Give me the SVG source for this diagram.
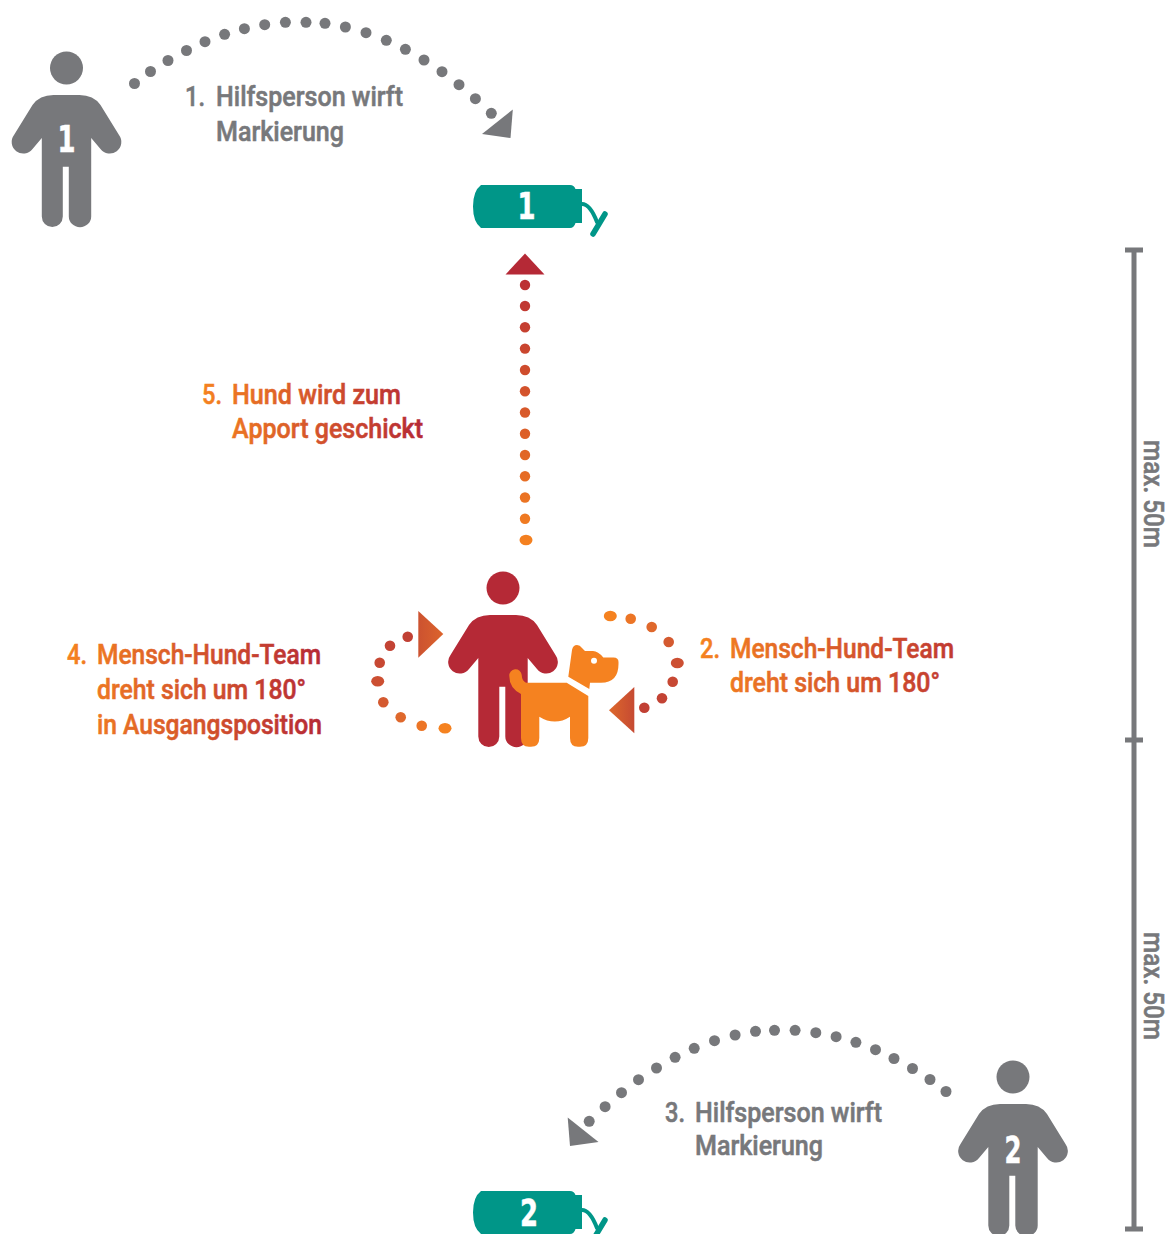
<svg xmlns="http://www.w3.org/2000/svg" xmlns:xlink="http://www.w3.org/1999/xlink" width="1173" height="1234" viewBox="0 0 1173 1234">
<style>
text{font-family:"Roboto","Noto Sans","Liberation Sans",sans-serif;font-weight:500;font-size:28px;stroke-width:.55px}
.grey{fill:#77787b}
.grey text{stroke:#77787b}
.num{font-family:"DejaVu Sans",sans-serif;font-weight:700;font-size:37px;fill:#fff;stroke:#fff;text-anchor:middle}
.teal{fill:#009688}
.rope{fill:none;stroke:#009688;stroke-width:4;stroke-linecap:round}
.fork{stroke-width:5.500px}
.scale{stroke:#77787b;fill:none;stroke-width:5px}
</style>
<defs>
<path id="person" d="M490,615H516Q530,615 537,625L555.5,655A11,11 0 0 1 537,669L527.7,658V736.5A11,10.500 0 0 1 505.300,736.500V686.700H499.300V736.500A10.500,10.500 0 0 1 478.300,736.500V658L469,669A11,11 0 0 1 450.500,655L469,625Q476,615 490,615Z"/>
<path id="bottle" d="M481,185H570Q574,185 575.500,189H582V223H575.500Q574,228 570,228H481Q473,222 473,206.500Q473,191 481,185Z"/>
<linearGradient id="gText5" gradientUnits="userSpaceOnUse" x1="202" y1="0" x2="424" y2="0"><stop offset="0" stop-color="#f58220"/><stop offset="1" stop-color="#b52936"/></linearGradient>
<linearGradient id="gText2" gradientUnits="userSpaceOnUse" x1="700" y1="0" x2="1010" y2="0"><stop offset="0" stop-color="#f58220"/><stop offset="1" stop-color="#b52936"/></linearGradient>
<linearGradient id="gText4" gradientUnits="userSpaceOnUse" x1="67" y1="0" x2="322" y2="0"><stop offset="0" stop-color="#f58220"/><stop offset="1" stop-color="#b52936"/></linearGradient>
<linearGradient id="gV" gradientUnits="userSpaceOnUse" x1="0" y1="254" x2="0" y2="546"><stop offset="0" stop-color="#b52936"/><stop offset="1" stop-color="#f58220"/></linearGradient>
<linearGradient id="gArrow" x1="0" y1="0" x2="1" y2="0"><stop offset="0" stop-color="#dd682c"/><stop offset="1" stop-color="#c64a32"/></linearGradient>
<linearGradient id="gArrowL" x1="0" y1="0" x2="1" y2="0"><stop offset="0" stop-color="#cc5230"/><stop offset="1" stop-color="#dc642c"/></linearGradient>
</defs>

<g id="connectors">
<g id="throw-1" class="grey">
<circle cx="134.500" cy="83.500" r="5.500"/><circle cx="150.500" cy="71.500" r="5.500"/><circle cx="168" cy="60.500" r="5.500"/><circle cx="186.500" cy="50.500" r="5.500"/><circle cx="205" cy="41.700" r="5.500"/><circle cx="224.600" cy="34.300" r="5.500"/><circle cx="244.400" cy="28.700" r="5.500"/><circle cx="264.700" cy="24.700" r="5.500"/><circle cx="285.400" cy="22.300" r="5.500"/><circle cx="306" cy="22.300" r="5.500"/><circle cx="325" cy="23.300" r="5.500"/><circle cx="345.400" cy="27" r="5.500"/><circle cx="366" cy="32.700" r="5.500"/><circle cx="386.300" cy="40.300" r="5.500"/><circle cx="405.400" cy="49.300" r="5.500"/><circle cx="424" cy="60" r="5.500"/><circle cx="442" cy="71.700" r="5.500"/><circle cx="459" cy="84.700" r="5.500"/><circle cx="475.400" cy="98.700" r="5.500"/><circle cx="491.300" cy="113.300" r="5.500"/>
<polygon points="512.800,109.500 482,134 510.500,138"/>
</g>
<g id="throw-2" class="grey" transform="translate(1080.500,1008) scale(-1,1)">
<circle cx="134.500" cy="83.500" r="5.500"/><circle cx="150.500" cy="71.500" r="5.500"/><circle cx="168" cy="60.500" r="5.500"/><circle cx="186.500" cy="50.500" r="5.500"/><circle cx="205" cy="41.700" r="5.500"/><circle cx="224.600" cy="34.300" r="5.500"/><circle cx="244.400" cy="28.700" r="5.500"/><circle cx="264.700" cy="24.700" r="5.500"/><circle cx="285.400" cy="22.300" r="5.500"/><circle cx="306" cy="22.300" r="5.500"/><circle cx="325" cy="23.300" r="5.500"/><circle cx="345.400" cy="27" r="5.500"/><circle cx="366" cy="32.700" r="5.500"/><circle cx="386.300" cy="40.300" r="5.500"/><circle cx="405.400" cy="49.300" r="5.500"/><circle cx="424" cy="60" r="5.500"/><circle cx="442" cy="71.700" r="5.500"/><circle cx="459" cy="84.700" r="5.500"/><circle cx="475.400" cy="98.700" r="5.500"/><circle cx="491.300" cy="113.300" r="5.500"/>
<polygon points="512.800,109.500 482,134 510.500,138"/>
</g>
<g id="send" fill="url(#gV)">
<polygon points="525,253.500 544.500,274.500 505.500,274.500" fill="#b52936"/>
<circle cx="525" cy="285" r="5.200"/><circle cx="525" cy="306" r="5.200"/><circle cx="525" cy="327.300" r="5.200"/><circle cx="525" cy="348.600" r="5.200"/><circle cx="525" cy="370" r="5.200"/><circle cx="525" cy="391.300" r="5.200"/><circle cx="525" cy="412.500" r="5.200"/><circle cx="525" cy="433.800" r="5.200"/><circle cx="525" cy="455" r="5.200"/><circle cx="525" cy="476.300" r="5.200"/><circle cx="525" cy="497.500" r="5.200"/><circle cx="525" cy="518.800" r="5.200"/><ellipse cx="526" cy="540" rx="6.500" ry="5.200"/>
</g>
<g id="turn-back">
<ellipse cx="445" cy="728.300" rx="6.500" ry="5.300" fill="#f58220"/>
<circle cx="421.700" cy="725.700" r="5.300" fill="#ec7526"/>
<circle cx="400.700" cy="717.300" r="5.300" fill="#df682c"/>
<circle cx="383.300" cy="702.300" r="5.300" fill="#d45a30"/>
<ellipse cx="377.700" cy="681.300" rx="6.500" ry="5.300" fill="#cc4f32"/>
<circle cx="379.700" cy="662.700" r="5.300" fill="#c74833"/>
<circle cx="390" cy="645.700" r="5.300" fill="#c34334"/>
<circle cx="407.700" cy="636.700" r="5.300" fill="#c14034"/>
<polygon points="418.300,611 443.300,634 418.300,657.700" fill="url(#gArrowL)"/>
</g>
<g id="turn-out">
<ellipse cx="610.300" cy="616" rx="6.500" ry="5.300" fill="#f58220"/>
<circle cx="630.700" cy="618.700" r="5.300" fill="#ec7526"/>
<circle cx="651.700" cy="627" r="5.300" fill="#df682c"/>
<circle cx="668.700" cy="642" r="5.300" fill="#d45a30"/>
<ellipse cx="677.300" cy="663" rx="6.500" ry="5.300" fill="#cc4f32"/>
<circle cx="672.700" cy="681.700" r="5.300" fill="#c74833"/>
<circle cx="662" cy="698.300" r="5.300" fill="#c34334"/>
<circle cx="644.300" cy="707.700" r="5.300" fill="#c14034"/>
<polygon points="634.300,687 609,710.300 634.300,733.300" fill="url(#gArrow)"/>
</g>
</g>

<g id="helper-1"><use xlink:href="#person" href="#person" transform="translate(-436.500,-520)" class="grey"/><circle cx="66.500" cy="68" r="16.500" class="grey"/><text class="num" x="66.500" y="152" textLength="18" lengthAdjust="spacingAndGlyphs">1</text></g>
<g id="helper-2"><use xlink:href="#person" href="#person" transform="translate(510,489)" class="grey"/><circle cx="1013" cy="1077" r="16.500" class="grey"/><text class="num" x="1013" y="1163" textLength="17" lengthAdjust="spacingAndGlyphs">2</text></g>

<g id="team">
<circle cx="503" cy="588" r="16.500" fill="#b52936"/>
<use xlink:href="#person" href="#person" fill="#b52936"/>
<path fill="#f58220" d="M509.300,676A6.200,6.200 0 0 1 521.700,675Q522,681 526,682.700H566.700L588.300,696V738Q588.300,746.700 580,746.700H578Q570,746.700 570,738V716.700Q555,726.500 539.300,716.700V738Q539.300,746.700 531,746.700H529Q521,746.700 521,738V694Q509.300,688 509.300,676Z"/>
<path fill="#f58220" d="M568.300,676.700L572,650Q573,645 577,645Q580,645 582,648L585,651H593Q598,651 603.300,657.500H613.500Q618.500,657.500 618.500,662V664Q618.500,682.700 601,682.700H590L589.300,689Z"/>
<circle cx="594" cy="660.700" r="3" fill="#fff"/>
</g>

<g id="marker-1"><use xlink:href="#bottle" href="#bottle" class="teal"/><path class="rope" d="M582,204Q590,204 597,222"/><path class="rope fork" d="M605,214L593,234"/><text class="num" x="526.500" y="219" textLength="18" lengthAdjust="spacingAndGlyphs">1</text></g>
<g id="marker-2"><use xlink:href="#bottle" href="#bottle" class="teal" transform="translate(0,1006)"/><path class="rope" d="M582,1210Q590,1210 597,1228"/><path class="rope fork" d="M605,1220L593,1240"/><text class="num" x="529" y="1226" textLength="18" lengthAdjust="spacingAndGlyphs">2</text></g>

<g id="scale">
<path class="scale" d="M1134,248V1230"/>
<path class="scale" d="M1125,250H1143M1125,740H1143M1125,1229H1143"/>
<g class="grey">
<text transform="translate(1144,440) rotate(90)" textLength="108" lengthAdjust="spacingAndGlyphs">max. 50m</text>
<text transform="translate(1144,932) rotate(90)" textLength="108" lengthAdjust="spacingAndGlyphs">max. 50m</text>
</g>
</g>

<g id="label-1" class="grey">
<text x="185" y="106" textLength="20" lengthAdjust="spacingAndGlyphs">1.</text>
<text x="216" y="106" textLength="187" lengthAdjust="spacingAndGlyphs">Hilfsperson wirft</text>
<text x="216" y="141" textLength="128" lengthAdjust="spacingAndGlyphs">Markierung</text>
</g>
<g id="label-3" class="grey">
<text x="665" y="1122" textLength="20" lengthAdjust="spacingAndGlyphs">3.</text>
<text x="695" y="1122" textLength="187" lengthAdjust="spacingAndGlyphs">Hilfsperson wirft</text>
<text x="695" y="1155" textLength="128" lengthAdjust="spacingAndGlyphs">Markierung</text>
</g>
<g id="label-5" fill="url(#gText5)" stroke="url(#gText5)">
<text x="202" y="404" textLength="20" lengthAdjust="spacingAndGlyphs">5.</text>
<text x="232" y="404" textLength="169" lengthAdjust="spacingAndGlyphs">Hund wird zum</text>
<text x="232" y="438" textLength="191" lengthAdjust="spacingAndGlyphs">Apport geschickt</text>
</g>
<g id="label-2" fill="url(#gText2)" stroke="url(#gText2)">
<text x="700" y="658" textLength="20" lengthAdjust="spacingAndGlyphs">2.</text>
<text x="730" y="658" textLength="224" lengthAdjust="spacingAndGlyphs">Mensch-Hund-Team</text>
<text x="730" y="692" textLength="210" lengthAdjust="spacingAndGlyphs">dreht sich um 180°</text>
</g>
<g id="label-4" fill="url(#gText4)" stroke="url(#gText4)">
<text x="67" y="664" textLength="20" lengthAdjust="spacingAndGlyphs">4.</text>
<text x="97" y="664" textLength="224" lengthAdjust="spacingAndGlyphs">Mensch-Hund-Team</text>
<text x="97" y="699" textLength="209" lengthAdjust="spacingAndGlyphs">dreht sich um 180°</text>
<text x="97" y="734" textLength="225" lengthAdjust="spacingAndGlyphs">in Ausgangsposition</text>
</g>
</svg>
